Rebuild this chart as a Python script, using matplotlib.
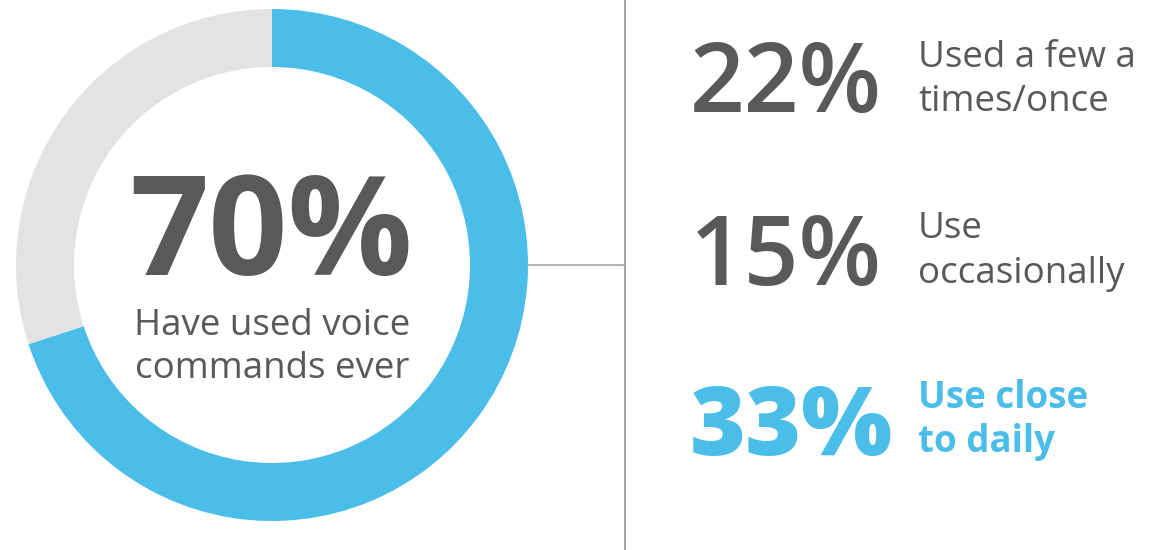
import matplotlib
matplotlib.use("Agg")
import matplotlib.pyplot as plt

# Data
donut_values = [70, 30]
donut_colors = ["#4BBDE9", "#E3E3E3"]
headline = "70%"
headline_label = ["Have used voice", "commands ever"]
stat_values = [22, 15, 33]
stat_labels = [["Used a few a", "times/once"], ["Use", "occasionally"], ["Use close", "to daily"]]
stat_colors = ["#595959", "#595959", "#4BBDE9"]
stat_weights = [600, 600, 800]
label_weights = ["normal", "normal", "bold"]

W, H = 1150, 550
fig = plt.figure(figsize=(W / 100, H / 100), dpi=100)
ax = fig.add_axes([0, 0, 1, 1])
ax.set_xlim(0, W)
ax.set_ylim(0, H)
ax.axis("off")

def Y(py):
    return H - py

cx, cy = 272, 265
R, r = 256, 198
ax.pie(donut_values, colors=donut_colors, startangle=90, counterclock=False,
       radius=R, center=(cx, Y(cy)), wedgeprops=dict(width=R - r, linewidth=0))
ax.set_xlim(0, W)
ax.set_ylim(0, H)
ax.set_aspect("equal")

FONT = "Open Sans"
dark = "#595959"
ax.text(cx - 1, Y(275), headline, ha="center", va="baseline", fontsize=100,
        fontweight="bold", color=dark, family=FONT)
ax.text(cx, Y(335), headline_label[0], ha="center", va="baseline", fontsize=26.5,
        color=dark, family=FONT)
ax.text(cx, Y(378), headline_label[1], ha="center", va="baseline", fontsize=26.5,
        color=dark, family=FONT)

# connector lines
line_c = "#A6A6A6"
ax.plot([cx + R, 625], [Y(265), Y(265)], color=line_c, lw=1.2, solid_capstyle="butt")
ax.plot([625, 625], [Y(0), Y(550)], color=line_c, lw=1.5, solid_capstyle="butt")

stat_baselines = [112, 285, 455]
label_baselines = [[67, 111], [238, 283], [408, 452]]
for v, labs, col, sw, lw_, b, lb in zip(stat_values, stat_labels, stat_colors,
                                          stat_weights, label_weights,
                                          stat_baselines, label_baselines):
    ax.text(690, Y(b), f"{v}%", ha="left", va="baseline", fontsize=69,
            fontweight=sw, color=col, family=FONT)
    for t, yb in zip(labs, lb):
        ax.text(918, Y(yb), t, ha="left", va="baseline", fontsize=26.5,
                fontweight=lw_, color=col, family=FONT)

fig.savefig("out.png", dpi=100, facecolor="white")
